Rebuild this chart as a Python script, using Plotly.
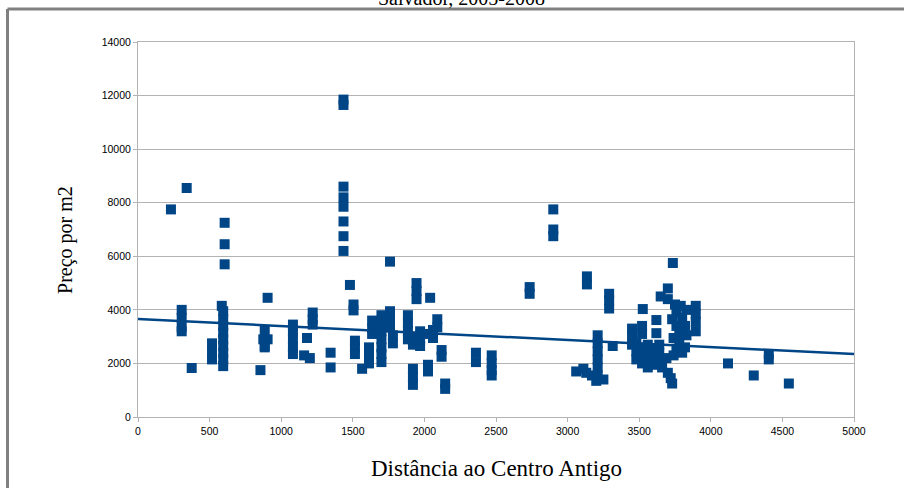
import plotly.graph_objects as go

# ---- data ----
dist = [
    230, 340, 305, 305, 305, 305, 375,
    517, 517, 517, 605, 605, 605, 585, 595, 595, 595, 595, 595, 595, 595, 595, 595,
    855, 905, 875, 905, 885, 885, 885,
    1082, 1082, 1082, 1082, 1082, 1180, 1160, 1200, 1220, 1220, 1220,
    1345, 1345,
    1435, 1435, 1435, 1435, 1435, 1435, 1435, 1435,
    1480, 1505, 1505, 1515, 1515, 1515,
    1565, 1613, 1613, 1613, 1635, 1635, 1635,
    1700, 1700, 1700, 1700, 1700, 1700, 1700, 1760, 1760, 1760, 1760, 1780, 1780,
    1885, 1885, 1885, 1885, 1920, 1920, 1920, 1920, 1920, 1945, 1945, 1945,
    1970, 1970, 1970, 2020, 2025, 2025, 2040, 2060, 2060, 2090, 2090, 2120, 2120,
    2145, 2145,
    2360, 2360, 2470, 2470, 2470, 2470,
    2735, 2735, 2900, 2900, 2900,
    3060, 3110, 3130, 3170, 3200, 3250, 3135, 3135, 3210, 3210, 3210, 3210, 3210,
    3210, 3290, 3290, 3290, 3315,
    3450, 3450, 3450, 3525, 3520, 3520, 3480, 3480, 3480, 3520, 3520, 3520,
    3560, 3560, 3560, 3560, 3600, 3600, 3600, 3620, 3620, 3640, 3640, 3650, 3660,
    3690, 3700, 3720, 3730, 3735, 3700, 3650, 3700, 3750, 3790, 3830, 3760, 3730,
    3800, 3760, 3820, 3780, 3830, 3740, 3780, 3820, 3760, 3740, 3800,
    3895, 3895, 3895, 3895,
    4120, 4300, 4405, 4405, 4545,
]
preco = [
    7750, 8550, 4000, 3700, 3350, 3200, 1830,
    2750, 2450, 2150, 7250, 6450, 5700, 4150, 3950, 3650, 3400, 3150, 2900, 2650, 2400, 2150, 1900,
    1750, 4450, 2900, 2900, 3250, 2650, 2600,
    3450, 3200, 2900, 2600, 2350, 2950, 2300, 2200, 3900, 3650, 3450,
    2400, 1850,
    11850, 11650, 8600, 8200, 7850, 7300, 6750, 6200,
    4930, 4200, 3980, 2850, 2600, 2350,
    1800, 2600, 2300, 2000, 3600, 3300, 3100,
    3800, 3500, 3200, 2900, 2600, 2350, 2050, 5800, 3950, 3650, 3350, 3050, 2750,
    3800, 3500, 3200, 2900, 3000, 2700, 1800, 1500, 1200, 5000, 4700, 4400,
    3200, 2900, 2650, 3100, 1950, 1700, 4450, 3250, 2950, 3650, 3350, 2500, 2250,
    1250, 1050,
    2400, 2050, 2300, 2000, 1750, 1550,
    4850, 4600, 7750, 7000, 6750,
    1700, 1800, 1650, 1550, 1350, 1400, 5250, 4950, 3050, 2750, 2450, 2150, 1850,
    1550, 4600, 4350, 4050, 2650,
    3300, 3000, 2700, 4030, 3400, 3100, 2750, 2450, 2150, 2600, 2300, 2000,
    2700, 2400, 2100, 1850, 2500, 2200, 1950, 3620, 3130, 2700, 2400, 2100, 1850,
    2200, 1650, 1450, 1250, 5750, 4800, 4500, 4400, 4200, 4150, 4000, 3900, 3650,
    3700, 3400, 3400, 3150, 3050, 2950, 2800, 2600, 2550, 2300, 2400,
    4150, 3850, 3550, 3200,
    2000, 1550, 2350, 2150, 1250,
]
# linear trend line endpoints
trend_x = [0, 5000]
trend_y = [3660, 2350]

x_ticks = [0, 500, 1000, 1500, 2000, 2500, 3000, 3500, 4000, 4500, 5000]
y_ticks = [0, 2000, 4000, 6000, 8000, 10000, 12000, 14000]

title_text = "Salvador, 2005-2008"
x_title = "Distância ao Centro Antigo"
y_title = "Preço por m2"

BLUE = "#004586"
GRID = "#b3b3b3"

fig = go.Figure()
fig.add_trace(go.Scatter(
    x=dist, y=preco, mode="markers",
    marker=dict(symbol="square", size=10, color=BLUE, line=dict(width=0)),
    showlegend=False, hoverinfo="x+y",
))
fig.add_trace(go.Scatter(
    x=trend_x, y=trend_y, mode="lines",
    line=dict(color=BLUE, width=2.5),
    showlegend=False,
))

axis_font = dict(family="Liberation Sans, Arial, sans-serif", size=10.5, color="#000000")
fig.update_xaxes(
    range=[0, 5000], tickvals=x_ticks, ticktext=[str(v) for v in x_ticks],
    showgrid=False, showline=True, linecolor=GRID, linewidth=1, mirror=True,
    ticks="outside", ticklen=4, tickcolor=GRID, tickfont=axis_font,
    zeroline=False, fixedrange=True,
)
fig.update_yaxes(
    range=[0, 14000], tickvals=y_ticks, ticktext=[str(v) for v in y_ticks],
    showgrid=True, gridcolor=GRID, gridwidth=1,
    showline=True, linecolor=GRID, linewidth=1, mirror=True,
    ticks="outside", ticklen=4, tickcolor=GRID, tickfont=axis_font,
    zeroline=False, fixedrange=True,
)

serif = "Liberation Serif, Times New Roman, serif"
fig.update_layout(
    width=904, height=488,
    margin=dict(l=138, r=50, t=42, b=71),
    paper_bgcolor="white", plot_bgcolor="white",
    annotations=[
        dict(text=title_text, xref="paper", yref="paper", x=0.4525, y=1.0827,
             xanchor="center", yanchor="bottom", showarrow=False,
             font=dict(family=serif, size=20, color="#000000")),
        dict(text=x_title, xref="paper", yref="paper", x=0.5, y=-0.136,
             xanchor="center", yanchor="middle", showarrow=False,
             font=dict(family=serif, size=23, color="#000000")),
        dict(text=y_title, xref="paper", yref="paper", x=-0.102, y=0.472,
             xanchor="center", yanchor="middle", showarrow=False, textangle=-90,
             font=dict(family=serif, size=20, color="#000000")),
    ],
    shapes=[
        dict(type="line", xref="paper", yref="paper", x0=-0.18226, x1=-0.18226,
             y0=-0.4, y1=1.088, line=dict(color="#808080", width=3)),
        dict(type="line", xref="paper", yref="paper", x0=-0.18226, x1=1.2,
             y0=1.088, y1=1.088, line=dict(color="#808080", width=3)),
    ],
)

# the page has no margin, so the figure fills the 904x488 window exactly
no_margin = "document.body.style.margin='0';document.body.style.overflow='hidden';"
fig.write_html("out.html", post_script=no_margin, config={"displayModeBar": False})
